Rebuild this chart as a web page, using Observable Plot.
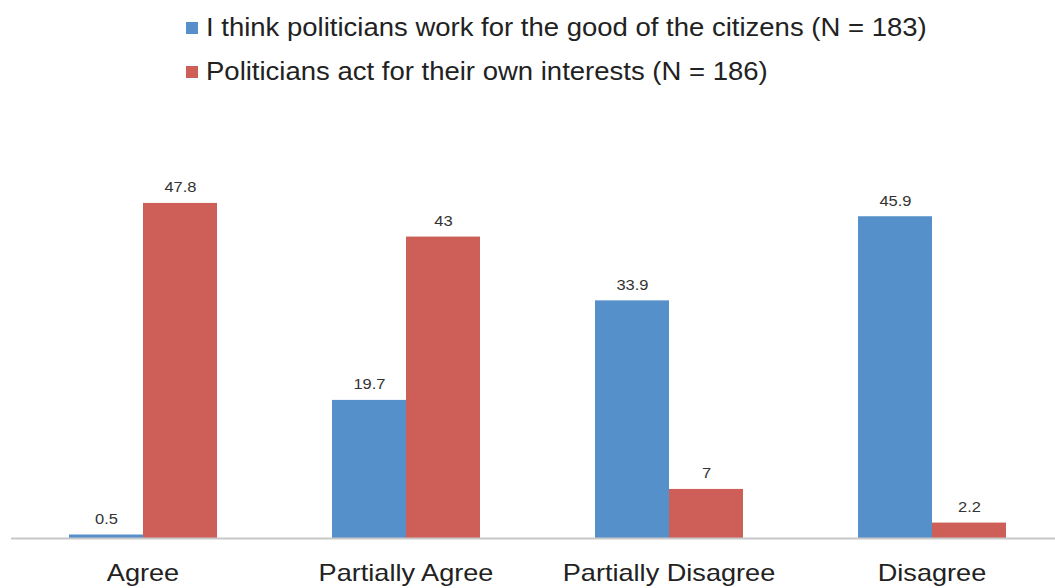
<!DOCTYPE html>
<html>
<head>
<meta charset="utf-8">
<script src="https://cdn.jsdelivr.net/npm/d3@7"></script>
<script src="https://cdn.jsdelivr.net/npm/@observablehq/plot@0.6"></script>
<style>
  html, body { margin: 0; padding: 0; background: #fff; overflow: hidden; }
  body { width: 1055px; height: 588px; font-family: "Liberation Sans", Arial, sans-serif; }
  #legend { position: relative; height: 100px; width: 1055px; }
  .item { position: absolute; left: 186px; font-size: 25px; color: #222; line-height: 1; white-space: nowrap; }
  .sw { display: inline-block; width: 12px; height: 12px; margin-right: 8px; vertical-align: 2px; }
  .lab { display: inline-block; transform: scaleX(1.1); transform-origin: left center; }
</style>
</head>
<body>
<div id="legend"></div>
<div id="chart"></div>
<script>
const categories = ["Agree", "Partially Agree", "Partially Disagree", "Disagree"];
const seriesNames = [
  "I think politicians work for the good of the citizens (N = 183)",
  "Politicians act for their own interests (N = 186)"
];
const seriesGood = [0.5, 19.7, 33.9, 45.9];
const seriesOwn = [47.8, 43, 7, 2.2];
const colors = ["#5590CB", "#CE5F58"];

const data = [];
categories.forEach((c, i) => {
  data.push({category: c, series: seriesNames[0], value: seriesGood[i]});
  data.push({category: c, series: seriesNames[1], value: seriesOwn[i]});
});

// legend
const legend = document.getElementById("legend");
seriesNames.forEach((s, i) => {
  const d = document.createElement("div");
  d.className = "item";
  d.style.top = (i === 0 ? 15 : 59) + "px";
  d.innerHTML = `<span class="sw" style="background:${colors[i]}"></span>`;
  const lab = document.createElement("span");
  lab.className = "lab";
  lab.textContent = s;
  d.appendChild(lab);
  legend.appendChild(d);
});

const chart = Plot.plot({
  width: 1055,
  height: 488,
  marginTop: 87.5,
  marginBottom: 50,
  marginLeft: 10,
  marginRight: -9,
  style: {fontFamily: "Liberation Sans, Arial, sans-serif", background: "#fff", overflow: "visible"},
  fx: {domain: categories, padding: 0, label: null},
  x: {domain: seriesNames, paddingInner: 0, paddingOuter: 0.757, axis: null},
  y: {domain: [0, 50], axis: null},
  color: {domain: seriesNames, range: colors},
  facet: {marginBottom: 0},
  marks: [
    Plot.barY(data, {fx: "category", x: "series", y: "value", fill: "series",
      style: "filter: drop-shadow(1.5px 0px 1px rgba(0,0,0,0.25))"}),
    Plot.text(data, {fx: "category", x: "series", y: "value", text: d => String(d.value),
      dy: -16, fontSize: 15, fill: "#333"}),
    Plot.ruleY([0], {stroke: "#c8c8c8", strokeWidth: 2}),
    Plot.axisFx({anchor: "bottom", tickSize: 0, tickPadding: 25, fontSize: 24, label: null, fill: "#222"})
  ]
});
document.getElementById("chart").appendChild(chart);

function stretch(sel, s) {
  chart.querySelectorAll(sel).forEach(t => {
    const w = t.getComputedTextLength();
    t.setAttribute("textLength", (w * s).toFixed(1));
    t.setAttribute("lengthAdjust", "spacingAndGlyphs");
  });
}
stretch('g[aria-label="text"] text', 1.1);
stretch('g[aria-label="fx-axis tick label"] text', 1.13);
</script>
</body>
</html>
